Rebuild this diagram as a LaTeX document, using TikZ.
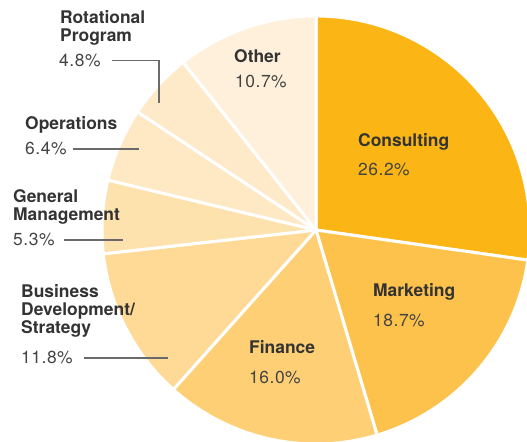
\documentclass[tikz,border=0pt]{standalone}
\usepackage{fontspec}
\setmainfont{TeX Gyre Heros}
\newfontfamily\pctfont[LetterSpace=3]{TeX Gyre Heros}
\definecolor{cCons}{HTML}{FBB615}
\definecolor{cMark}{HTML}{FDC24C}
\definecolor{cFin}{HTML}{FECF74}
\definecolor{cBD}{HTML}{FEDA96}
\definecolor{cGM}{HTML}{FEE2AE}
\definecolor{cOps}{HTML}{FEE9C4}
\definecolor{cRot}{HTML}{FEEAC8}
\definecolor{cOth}{HTML}{FEF0DB}
\definecolor{txtdark}{HTML}{333333}
\definecolor{txtpct}{HTML}{444444}
\definecolor{leadc}{HTML}{6A6A6A}
\begin{document}
\begin{tikzpicture}[x=1bp,y=1bp,
  slice/.style={draw=white,line width=3bp,line join=round},
  lbl/.style={anchor=base west,inner sep=0pt,align=left,text=txtdark,
    font=\fontsize{17.5}{18.5}\selectfont\bfseries},
  pct/.style={anchor=base west,inner sep=0pt,text=txtpct,
    font=\fontsize{17.5}{18.5}\selectfont\pctfont},
  leader/.style={draw=leadc,line width=1.2bp}]
\useasboundingbox (0,0) rectangle (527,442);
\clip (0,0) rectangle (527,442);
\coordinate (C) at (316,212);
\def\R{214}
\newcommand\pieslice[3]{%
  \filldraw[slice,fill=#3] (C) -- ++(#1:\R) arc[start angle=#1,end angle=#2,radius=\R] -- cycle;}
\pieslice{90}{-8.1}{cCons}
\pieslice{-8.1}{-73.4}{cMark}
\pieslice{-73.4}{-131.8}{cFin}
\pieslice{-131.8}{-173.6}{cBD}
\pieslice{-173.6}{-193.5}{cGM}
\pieslice{-193.5}{-213.5}{cOps}
\pieslice{-213.5}{-231.6}{cRot}
\pieslice{-231.6}{-270}{cOth}

% labels (base anchor = baseline of last line)
\node[lbl] (lRot) at (60,400.3) {Rotational\\Program};
\node[pct] (p48) at (59,375.5) {4.8\%};
\node[lbl] (lOps) at (25,312) {Operations};
\node[pct] (p64) at (25,287) {6.4\%};
\node[lbl] (lGM) at (13,221) {General\\Management};
\node[pct] (p53) at (13,196) {5.3\%};
\node[lbl] (lBD) at (21,108) {Business\\Development/\\Strategy};
\node[pct] (p118) at (21,78) {11.8\%};
\node[lbl] (lOth) at (234,379) {Other};
\node[pct] (p107) at (235,354) {10.7\%};
\node[lbl] (lCons) at (358,295) {Consulting};
\node[pct] (p262) at (358,266) {26.2\%};
\node[lbl] (lMark) at (373,145) {Marketing};
\node[pct] (p187) at (373,115) {18.7\%};
\node[lbl] (lFin) at (249,88) {Finance};
\node[pct] (p160) at (249,58) {16.0\%};

% leaders
\coordinate (eRot) at (159,339);
\coordinate (eOps) at (139,293);
\coordinate (eGM) at (123,202);
\coordinate (eBD) at (168,85);
\draw[leader] ([xshift=11bp]p48.east) -| (eRot);
\draw[leader] ([xshift=6bp]p64.east) -- (p64.east -| eOps);
\draw[leader] ([xshift=9bp]p53.east) -- (p53.east -| eGM);
\draw[leader] ([xshift=11bp]p118.east) -- (p118.east -| eBD);
\end{tikzpicture}
\end{document}
